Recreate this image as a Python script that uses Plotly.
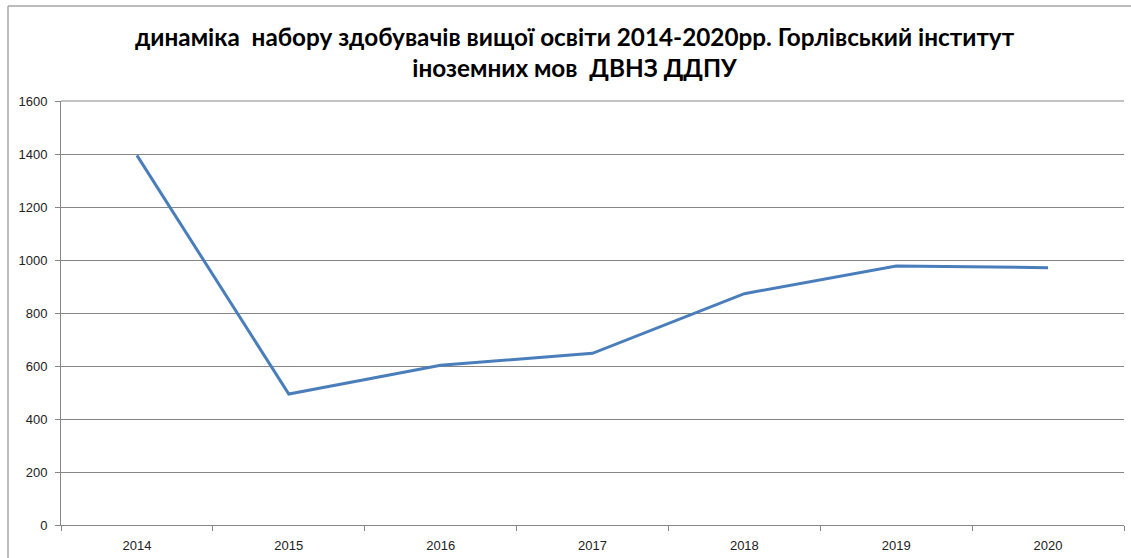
import plotly.graph_objects as go

years = ["2014", "2015", "2016", "2017", "2018", "2019", "2020"]
enrolment = [1395, 494, 603, 648, 873, 977, 971]
y_ticks = [0, 200, 400, 600, 800, 1000, 1200, 1400, 1600]
title_text = ("динаміка  набору здобувачів вищої освіти 2014-2020рр. Горлівський інститут"
              "<br>іноземних мов  ДВНЗ ДДПУ")

W, H = 1131, 558
L, R, T, B = 61, 7, 101, 33
pw, ph = W - L - R, H - T - B

fig = go.Figure()
fig.add_trace(go.Scatter(
    x=years, y=enrolment, mode="lines",
    line=dict(color="#4A7EBB", width=3),
    showlegend=False,
))

def px_x(p):
    return (p - L) / pw

def px_y(p):
    return (H - B - p) / ph

fig.add_shape(type="line", xref="paper", yref="paper",
              x0=px_x(8), x1=px_x(8), y0=px_y(6), y1=px_y(H + 5),
              line=dict(color="#A6A6A6", width=1.5))
fig.add_shape(type="line", xref="paper", yref="paper",
              x0=px_x(8), x1=px_x(W + 5), y0=px_y(6), y1=px_y(6),
              line=dict(color="#A6A6A6", width=1.5))

fig.update_layout(
    width=W, height=H,
    margin=dict(l=L, r=R, t=T, b=B, autoexpand=False),
    paper_bgcolor="white", plot_bgcolor="white",
    title=dict(text=title_text, x=0.508, xanchor="center", y=0.918, yanchor="middle",
               font=dict(family="Lato", size=24.3, color="black", weight="bold")),
    font=dict(family="Liberation Sans", size=13, color="#222"),
)
fig.update_xaxes(
    type="category", range=[-0.5, 6.5],
    showline=True, linecolor="#868686", linewidth=1,
    ticks="outside", tickson="boundaries", ticklen=5, tickcolor="#868686",
    ticklabelstandoff=8,
    showgrid=False, tickfont=dict(size=13, color="#222"),
)
fig.update_yaxes(
    range=[0, 1600], tickvals=y_ticks, ticktext=[str(v) for v in y_ticks],
    showline=True, linecolor="#868686", linewidth=1,
    ticks="outside", ticklen=5, tickcolor="#868686",
    ticklabelstandoff=5,
    showgrid=True, gridcolor="#868686", gridwidth=1,
    zeroline=False, tickfont=dict(size=13, color="#222"),
)
fig.add_shape(type="line", xref="paper", yref="paper", x0=0, x1=1, y0=1, y1=1,
              line=dict(color="#868686", width=1))

fig.write_html("out.html", config={"displayModeBar": False},
               post_script="document.body.style.margin='0';document.body.style.overflow='hidden';")
